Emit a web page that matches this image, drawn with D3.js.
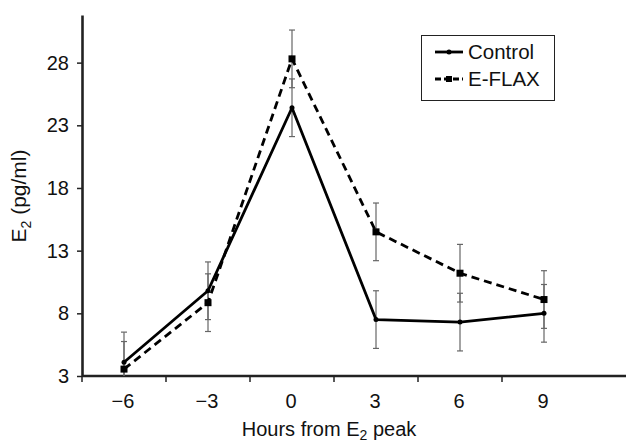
<!DOCTYPE html>
<html>
<head>
<meta charset="utf-8">
<script src="https://cdn.jsdelivr.net/npm/d3@7"></script>
<style>
  body { margin: 0; background: #fff; }
  svg { font-family: "Liberation Sans", Arial, sans-serif; }
</style>
</head>
<body>
<svg id="chart"></svg>
<script>
// data
const hours = ['\u22126', '\u22123', '0', '3', '6', '9']
const yTicks = [3, 8, 13, 18, 23, 28]
const controlMean = [4.1, 9.8, 24.4, 7.5, 7.3, 8.0]
const controlErr = [2.4, 2.3, 2.3, 2.3, 2.3, 2.3]
const flaxMean = [3.55, 8.85, 28.3, 14.5, 11.2, 9.1]
const flaxErr = [2.2, 2.3, 2.3, 2.3, 2.3, 2.3]

const width = 626, height = 442
const plotLeft = 82, plotBottom = 376, plotTop = 15, bandRight = 586

const svg = d3.select('#chart')
    .attr('width', width)
    .attr('height', height)

let x = d3.scaleBand()
    .domain(hours)
    .range([plotLeft, bandRight])

let y = d3.scaleLinear()
    .domain([3, 31.8])
    .range([plotBottom, plotTop])

const axisColor = '#222'

// y axis
let yAxis = svg.append('g')
    .attr('transform', 'translate(' + plotLeft + ',0)')
    .call(d3.axisLeft(y).tickValues(yTicks).tickSize(5).tickPadding(8).tickSizeOuter(0))
yAxis.select('.domain').attr('stroke', axisColor).attr('stroke-width', 2.6)
yAxis.selectAll('.tick line').attr('stroke', axisColor).attr('stroke-width', 1.5)
yAxis.selectAll('.tick text').attr('font-size', 20).attr('fill', '#111')
    .attr('font-family', '"Liberation Sans", Arial, sans-serif')

// x axis: line runs past the last category to the edge
svg.append('line')
    .attr('x1', plotLeft).attr('x2', width)
    .attr('y1', plotBottom).attr('y2', plotBottom)
    .attr('stroke', axisColor).attr('stroke-width', 2.6)

// boundary ticks between categories
svg.selectAll('.xtick').data(hours)
    .enter().append('line')
    .attr('class', 'xtick')
    .attr('x1', d => x(d)).attr('x2', d => x(d))
    .attr('y1', plotBottom).attr('y2', plotBottom + 6)
    .attr('stroke', axisColor).attr('stroke-width', 1.5)

svg.selectAll('.xlabel').data(hours)
    .enter().append('text')
    .attr('class', 'xlabel')
    .attr('x', d => x(d) + x.bandwidth() / 2 - 1)
    .attr('y', 408)
    .attr('text-anchor', 'middle')
    .attr('font-size', 20)
    .attr('fill', '#111')
    .text(d => d)

// axis titles
let xt = svg.append('text')
    .attr('x', 329)
    .attr('y', 436)
    .attr('text-anchor', 'middle')
    .attr('font-size', 20)
    .attr('fill', '#111')
xt.append('tspan').text('Hours from E')
xt.append('tspan').attr('font-size', 14).attr('dy', 4).text('2')
xt.append('tspan').attr('dy', -4).text(' peak')

let yt = svg.append('text')
    .attr('transform', 'translate(26,196) rotate(-90)')
    .attr('text-anchor', 'middle')
    .attr('font-size', 21)
    .attr('fill', '#111')
yt.append('tspan').text('E')
yt.append('tspan').attr('font-size', 14).attr('dy', 5).text('2')
yt.append('tspan').attr('dy', -5).text(' (pg/ml)')

const cx = (d, i) => x(hours[i]) + x.bandwidth() / 2

// error bars
const drawErr = (mean, err, cls) => {
    let g = svg.append('g').attr('class', cls)
    mean.forEach((m, i) => {
        let px = cx(m, i)
        let lo = Math.max(m - err[i], 3)
        g.append('line')
            .attr('x1', px).attr('x2', px)
            .attr('y1', y(m + err[i])).attr('y2', y(lo))
            .attr('stroke', '#666').attr('stroke-width', 1.2)
        ;[m + err[i], m - err[i]].forEach(v => {
            if (v < 3) return
            g.append('line')
                .attr('x1', px - 3).attr('x2', px + 3)
                .attr('y1', y(v)).attr('y2', y(v))
                .attr('stroke', '#666').attr('stroke-width', 1.2)
        })
    })
}
drawErr(controlMean, controlErr, 'err-control')
drawErr(flaxMean, flaxErr, 'err-flax')

let line = d3.line()
    .x(cx)
    .y(d => y(d))

svg.append('path')
    .datum(controlMean)
    .attr('d', line)
    .attr('fill', 'none')
    .attr('stroke', '#000')
    .attr('stroke-width', 2.8)
    .attr('stroke-linejoin', 'round')

svg.append('path')
    .datum(flaxMean)
    .attr('d', line)
    .attr('fill', 'none')
    .attr('stroke', '#000')
    .attr('stroke-width', 2.8)
    .attr('stroke-dasharray', '8,5')

// markers
svg.selectAll('.m-control').data(controlMean)
    .enter().append('circle')
    .attr('class', 'm-control')
    .attr('cx', cx).attr('cy', d => y(d))
    .attr('r', 2.5)
    .attr('fill', '#000')

svg.selectAll('.m-flax').data(flaxMean)
    .enter().append('rect')
    .attr('class', 'm-flax')
    .attr('x', (d, i) => cx(d, i) - 3.5).attr('y', d => y(d) - 3.5)
    .attr('width', 7).attr('height', 7)
    .attr('fill', '#000')

// legend
let legend = svg.append('g')
legend.append('rect')
    .attr('x', 421.5).attr('y', 35.5)
    .attr('width', 133).attr('height', 65)
    .attr('fill', '#fff').attr('stroke', '#222').attr('stroke-width', 1)

const legendItems = [
    { name: 'Control', dash: null, y: 52 },
    { name: 'E-FLAX', dash: '6,3', y: 79 }
]
legendItems.forEach(item => {
    legend.append('line')
        .attr('x1', 435).attr('x2', 463)
        .attr('y1', item.y).attr('y2', item.y)
        .attr('stroke', '#000').attr('stroke-width', 2.8)
        .attr('stroke-dasharray', item.dash)
    if (item.dash) {
        legend.append('rect')
            .attr('x', 446).attr('y', item.y - 3)
            .attr('width', 6).attr('height', 6).attr('fill', '#000')
    } else {
        legend.append('circle')
            .attr('cx', 449).attr('cy', item.y).attr('r', 2.5).attr('fill', '#000')
    }
    legend.append('text')
        .attr('x', 468).attr('y', item.y + 7)
        .attr('font-size', 20.5)
        .attr('fill', '#111')
        .text(item.name)
})
</script>
</body>
</html>
